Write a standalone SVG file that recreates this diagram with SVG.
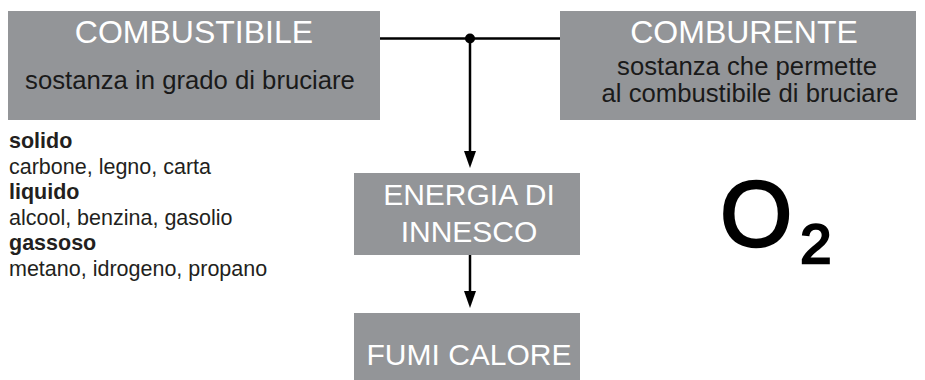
<svg xmlns="http://www.w3.org/2000/svg" width="925" height="380" viewBox="0 0 925 380">
<style>
.box{fill:#939598;}
.title{font-family:"Liberation Sans",Arial,sans-serif;font-size:32px;fill:#ffffff;text-anchor:middle;}
.mid{font-size:30px;}
.sub{font-family:"Liberation Sans",Arial,sans-serif;font-size:25.7px;fill:#1a1a1a;text-anchor:middle;}
.list{font-family:"Liberation Sans",Arial,sans-serif;font-size:21.5px;fill:#231f20;}
.bold{font-weight:bold;}
.conn{stroke:#000;stroke-width:2.5;fill:none;}
</style>
<defs>
<marker id="ah" viewBox="0 0 17 12" refX="7" refY="6" markerWidth="17" markerHeight="12" markerUnits="userSpaceOnUse" orient="auto">
<path d="M0,0 L17,6 L0,12 z" fill="#000"/>
</marker>
</defs>
<g id="connectors">
<line class="conn" x1="380" y1="38.5" x2="560" y2="38.5"/>
<circle cx="470" cy="38.5" r="5" fill="#000"/>
<line class="conn" x1="470" y1="38.5" x2="470" y2="158" marker-end="url(#ah)"/>
<line class="conn" x1="470" y1="255" x2="470" y2="298" marker-end="url(#ah)"/>
</g>
<g id="combustibile">
<rect class="box" x="8" y="11" width="372" height="109"/>
<text class="title" x="194" y="43">COMBUSTIBILE</text>
<text class="sub" x="190" y="89">sostanza in grado di bruciare</text>
</g>
<g id="comburente">
<rect class="box" x="560" y="11" width="356" height="109"/>
<text class="title" x="744" y="43">COMBURENTE</text>
<text class="sub" x="747" y="75">sostanza che permette</text>
<text class="sub" x="750" y="102">al combustibile di bruciare</text>
</g>
<g id="energia">
<rect class="box" x="354" y="173" width="226" height="82"/>
<text class="title mid" x="469" y="205">ENERGIA DI</text>
<text class="title mid" x="469" y="242">INNESCO</text>
</g>
<g id="fumi">
<rect class="box" x="354" y="313" width="226" height="67"/>
<text class="title mid" x="469" y="365">FUMI CALORE</text>
</g>
<g id="tipi">
<text class="list bold" x="9" y="148">solido</text>
<text class="list" x="9" y="174">carbone, legno, carta</text>
<text class="list bold" x="9" y="199">liquido</text>
<text class="list" x="9" y="225">alcool, benzina, gasolio</text>
<text class="list bold" x="9" y="250">gassoso</text>
<text class="list" x="9" y="276">metano, idrogeno, propano</text>
</g>
<g id="o2">
<text font-family="Liberation Sans,Arial,sans-serif" font-size="93" fill="#000" stroke="#000" stroke-width="2.5" x="720" y="246">O<tspan font-size="56" dx="8" dy="17">2</tspan></text>
</g>
</svg>
